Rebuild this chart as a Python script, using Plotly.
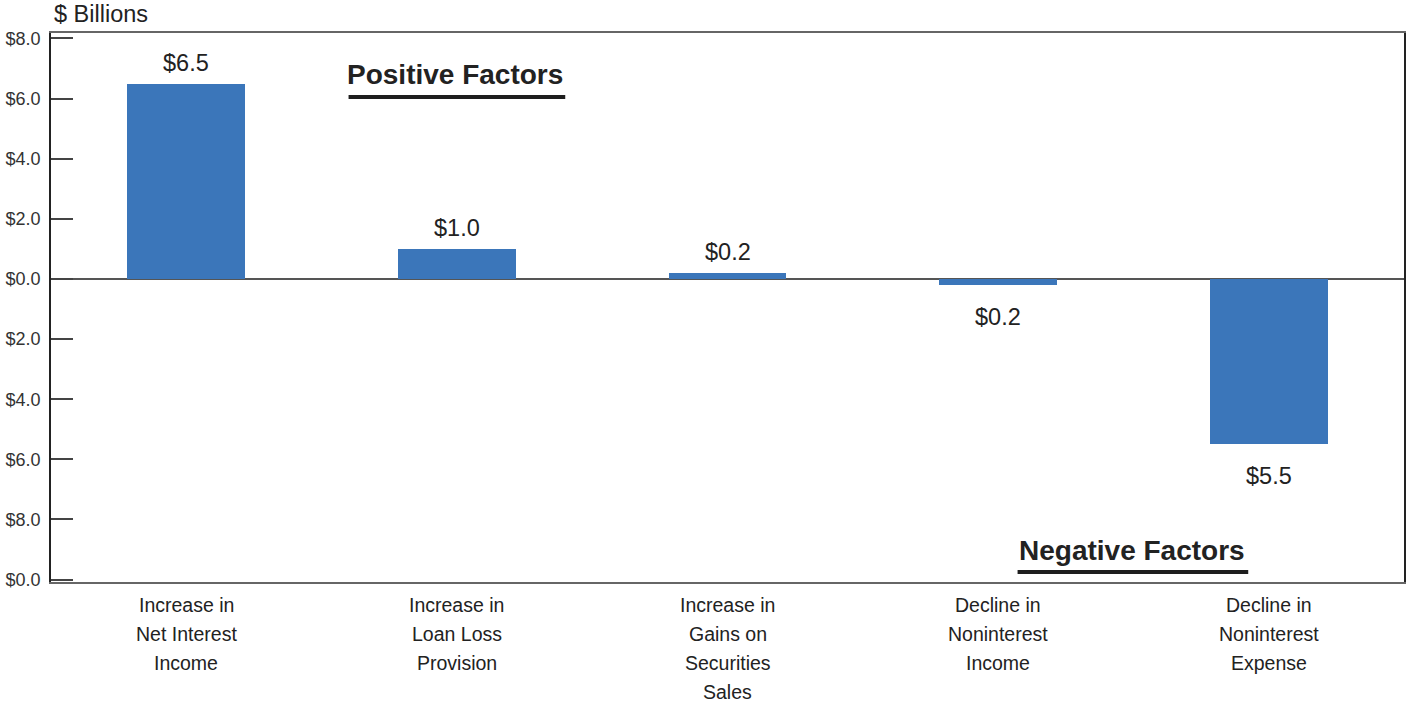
import plotly.graph_objects as go

# Change in quarterly net income by component, $ billions
categories = [
    "Increase in<br>Net Interest<br>Income",
    "Increase in<br>Loan Loss<br>Provision",
    "Increase in<br>Gains on<br>Securities<br>Sales",
    "Decline in<br>Noninterest<br>Income",
    "Decline in<br>Noninterest<br>Expense",
]
values = [6.5, 1.0, 0.2, -0.2, -5.5]

y_tick_values = [-10, -8, -6, -4, -2, 0, 2, 4, 6, 8]
y_tick_labels = ["$0.0", "$8.0", "$6.0", "$4.0", "$2.0", "$0.0", "$2.0", "$4.0", "$6.0", "$8.0"]

bar_labels = [f"${abs(v):.1f}" for v in values]
positions = list(range(len(categories)))

font_family = "Liberation Sans, Arial, sans-serif"
ink = "#222222"

fig = go.Figure()
fig.add_trace(go.Bar(
    x=positions,
    y=values,
    width=0.435,
    marker=dict(color="#3B76BA", line=dict(width=0)),
    hoverinfo="skip",
))

fig.update_layout(
    width=1411, height=702,
    margin=dict(l=51, r=5, t=33, b=120),
    paper_bgcolor="white", plot_bgcolor="white",
    showlegend=False,
    font=dict(family=font_family, color=ink),
    xaxis=dict(
        range=[-0.5, 4.5],
        tickvals=positions,
        showticklabels=False,
        showgrid=False, zeroline=False,
        showline=True, linecolor="#666666", linewidth=1.5, mirror=True,
        ticks="", fixedrange=True,
    ),
    yaxis=dict(
        range=[-10.08, 8.18],
        tickvals=y_tick_values,
        ticktext=y_tick_labels,
        tickfont=dict(size=18, color="#333333"),
        ticks="inside", ticklen=22, tickcolor="#444444", tickwidth=1.5,
        ticklabelstandoff=5,
        showgrid=False,
        zeroline=True, zerolinecolor="#555555", zerolinewidth=2,
        showline=True, linecolor="#222222", linewidth=1.5, mirror=True,
        fixedrange=True,
    ),
    bargap=0,
)

# Value labels above positive bars, below negative bars
for x, v, lab in zip(positions, values, bar_labels):
    fig.add_annotation(
        text=lab, x=x, y=v, xref="x", yref="y",
        xanchor="center", yanchor="middle",
        yshift=21 if v >= 0 else -32,
        showarrow=False,
        font=dict(size=23.5, color=ink),
    )

# Category labels, one line at a time for wider line spacing
for x, cat in zip(positions, categories):
    for j, line in enumerate(cat.split("<br>")):
        fig.add_annotation(
            text=line, x=x, y=0, xref="x", yref="paper",
            xanchor="center", yanchor="middle",
            yshift=-(23 + 29 * j),
            showarrow=False,
            font=dict(size=19.5, color=ink),
        )

fig.add_annotation(
    text="$ Billions", xref="paper", yref="paper",
    x=0.0, y=1.0, xanchor="left", yanchor="middle", xshift=1, yshift=19,
    showarrow=False, font=dict(size=23.5, color=ink),
)

# Section headers with underlines
fig.add_annotation(
    text="<b>Positive Factors</b>", xref="paper", yref="y",
    x=(456 - 51) / 1355, y=6.8, xanchor="center", yanchor="middle",
    showarrow=False, font=dict(size=28, color=ink),
)
fig.add_shape(type="line", xref="paper", yref="y",
              x0=(349 - 51) / 1355, x1=(566 - 51) / 1355, y0=6.05, y1=6.05,
              line=dict(color="#1e1e1e", width=4))

fig.add_annotation(
    text="<b>Negative Factors</b>", xref="paper", yref="y",
    x=(1133.5 - 51) / 1355, y=-9.02, xanchor="center", yanchor="middle",
    showarrow=False, font=dict(size=28, color=ink),
)
fig.add_shape(type="line", xref="paper", yref="y",
              x0=(1019 - 51) / 1355, x1=(1250 - 51) / 1355, y0=-9.75, y1=-9.75,
              line=dict(color="#1e1e1e", width=4))

fig.write_html("out.html")
